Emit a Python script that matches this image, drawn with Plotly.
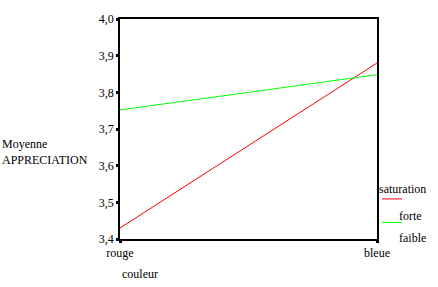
import plotly.graph_objects as go

categories = ["rouge", "bleue"]
forte = [3.43, 3.88]
faible = [3.752, 3.848]
y_ticks = [3.4, 3.5, 3.6, 3.7, 3.8, 3.9, 4.0]
y_tick_labels = ["3,4", "3,5", "3,6", "3,7", "3,8", "3,9", "4,0"]
legend_title = "saturation"
series_names = ["forte", "faible"]
colors = ["#ff0000", "#00ff00"]

font = dict(family="Liberation Serif", size=12, color="black")

fig = go.Figure()
for name, vals, col in zip(series_names, [forte, faible], colors):
    fig.add_trace(go.Scatter(x=categories, y=vals, mode="lines", name=name,
                             line=dict(color=col, width=1), showlegend=False))

fig.update_layout(
    width=438, height=287,
    margin=dict(l=120, r=61, t=14, b=48),
    paper_bgcolor="white", plot_bgcolor="white",
    font=font,
    showlegend=False,
)
fig.update_xaxes(type="category", range=[0, 1], showgrid=False, zeroline=False,
                 showline=True, linecolor="black", linewidth=1.5, mirror=True,
                 ticks="outside", ticklen=2, tickwidth=3, tickcolor="black",
                 tickfont=font)
fig.update_yaxes(range=[3.4, 4.0], tickvals=y_ticks, ticktext=y_tick_labels,
                 showgrid=False, zeroline=False,
                 showline=True, linecolor="black", linewidth=1.5, mirror=True,
                 ticks="outside", ticklen=2, tickwidth=3, tickcolor="black",
                 tickfont=font)

# Axis titles
fig.add_annotation(text="Moyenne<br>APPRECIATION", xref="paper", yref="paper",
                   x=-120/257, y=(239-150)/225, xanchor="left", yanchor="middle",
                   align="left", showarrow=False, font=font)
fig.add_annotation(text="couleur", xref="paper", yref="paper",
                   x=0, y=-(275-239)/225, xanchor="left", yanchor="middle",
                   showarrow=False, font=font)

# Legend (drawn manually to match layout)
def px(xp):
    return (xp - 120) / 257
def py(yp):
    return (239 - yp) / 225

fig.add_annotation(text=legend_title, xref="paper", yref="paper",
                   x=px(377), y=py(188), xanchor="left", yanchor="middle",
                   showarrow=False, font=font)
label_y = [215, 238]
line_y = [198, 222]
for name, col, ly, ty in zip(series_names, colors, line_y, label_y):
    fig.add_shape(type="line", xref="paper", yref="paper",
                  x0=px(382), x1=px(402), y0=py(ly), y1=py(ly),
                  line=dict(color=col, width=1))
    fig.add_annotation(text=name, xref="paper", yref="paper",
                       x=px(397), y=py(ty), xanchor="left", yanchor="middle",
                       showarrow=False, font=font)

fig.write_html("out.html")
